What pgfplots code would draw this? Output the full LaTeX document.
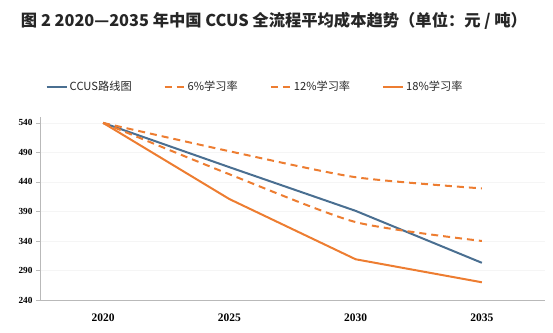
\documentclass[border=0pt]{standalone}
\usepackage{pgfplots}
\pgfplotsset{compat=1.18}
\usepackage{fontspec}
\setmainfont{Liberation Serif}
\newfontfamily\cjk{Noto Sans CJK SC}
\definecolor{cblue}{HTML}{4A6F91}
\definecolor{corange}{HTML}{ED7D31}
\begin{document}
\begin{tikzpicture}[x=1pt,y=1pt]
\useasboundingbox (0,0) rectangle (553,332);
\node[font=\cjk\bfseries\fontsize{16.3}{16.3}\selectfont, text=black!85] at (274,311) {图 2 2020—2035 年中国 CCUS 全流程平均成本趋势（单位：元 / 吨）};
\begin{axis}[
  at={(40pt,32pt)}, anchor=south west, scale only axis,
  width=505pt, height=183pt,
  xmin=-0.5, xmax=3.5, ymin=240, ymax=550,
  axis x line*=bottom, axis y line*=left,
  axis line style={gray!55, line width=0.6pt},
  xtick={0,1,2,3}, xticklabels={2020,2025,2030,2035},
  x tick label style={font=\bfseries\fontsize{11.5}{11.5}\selectfont, yshift=-6pt},
  ytick={240,290,340,390,440,490,540},
  y tick label style={font=\bfseries\fontsize{9.3}{9.3}\selectfont},
  /pgf/number format/assume math mode=true,
  xtick style={draw=none},
  ytick style={gray!55},
  tick align=outside, major tick length=4pt,
  extra x ticks={0.5,1.5,2.5}, extra x tick labels={},
  extra x tick style={tick style={draw=gray!55}, xmajorgrids=false},
  ymajorgrids, grid style={gray!8, line width=0.5pt},
  legend columns=4,
  legend style={at={(0.426,1.164)}, anchor=center, draw=none, fill=none,
    font=\cjk\fontsize{11.2}{11.2}\selectfont, text=black!85,
    /tikz/every even column/.append style={column sep=30pt},
    cells={anchor=west}},
  legend image code/.code={\draw[#1] (0pt,0pt) -- (20pt,0pt);},
]
\addplot[cblue, line width=2pt] coordinates {(0,540) (1,465) (2,391) (3,303)};
\addlegendentry{CCUS路线图}
\addplot[corange, line width=2pt, dash pattern=on 7pt off 5pt, smooth, tension=0.4] coordinates {(0,540) (1,492) (2,448) (3,429)};
\addlegendentry{6\%学习率}
\addplot[corange, line width=2pt, dash pattern=on 7pt off 5pt, smooth, tension=0.4] coordinates {(0,540) (1,453) (2,372) (3,340)};
\addlegendentry{12\%学习率}
\addplot[corange, line width=2pt] coordinates {(0,540) (1,411) (2,309) (3,270)};
\addlegendentry{18\%学习率}
\end{axis}
\end{tikzpicture}
\end{document}
